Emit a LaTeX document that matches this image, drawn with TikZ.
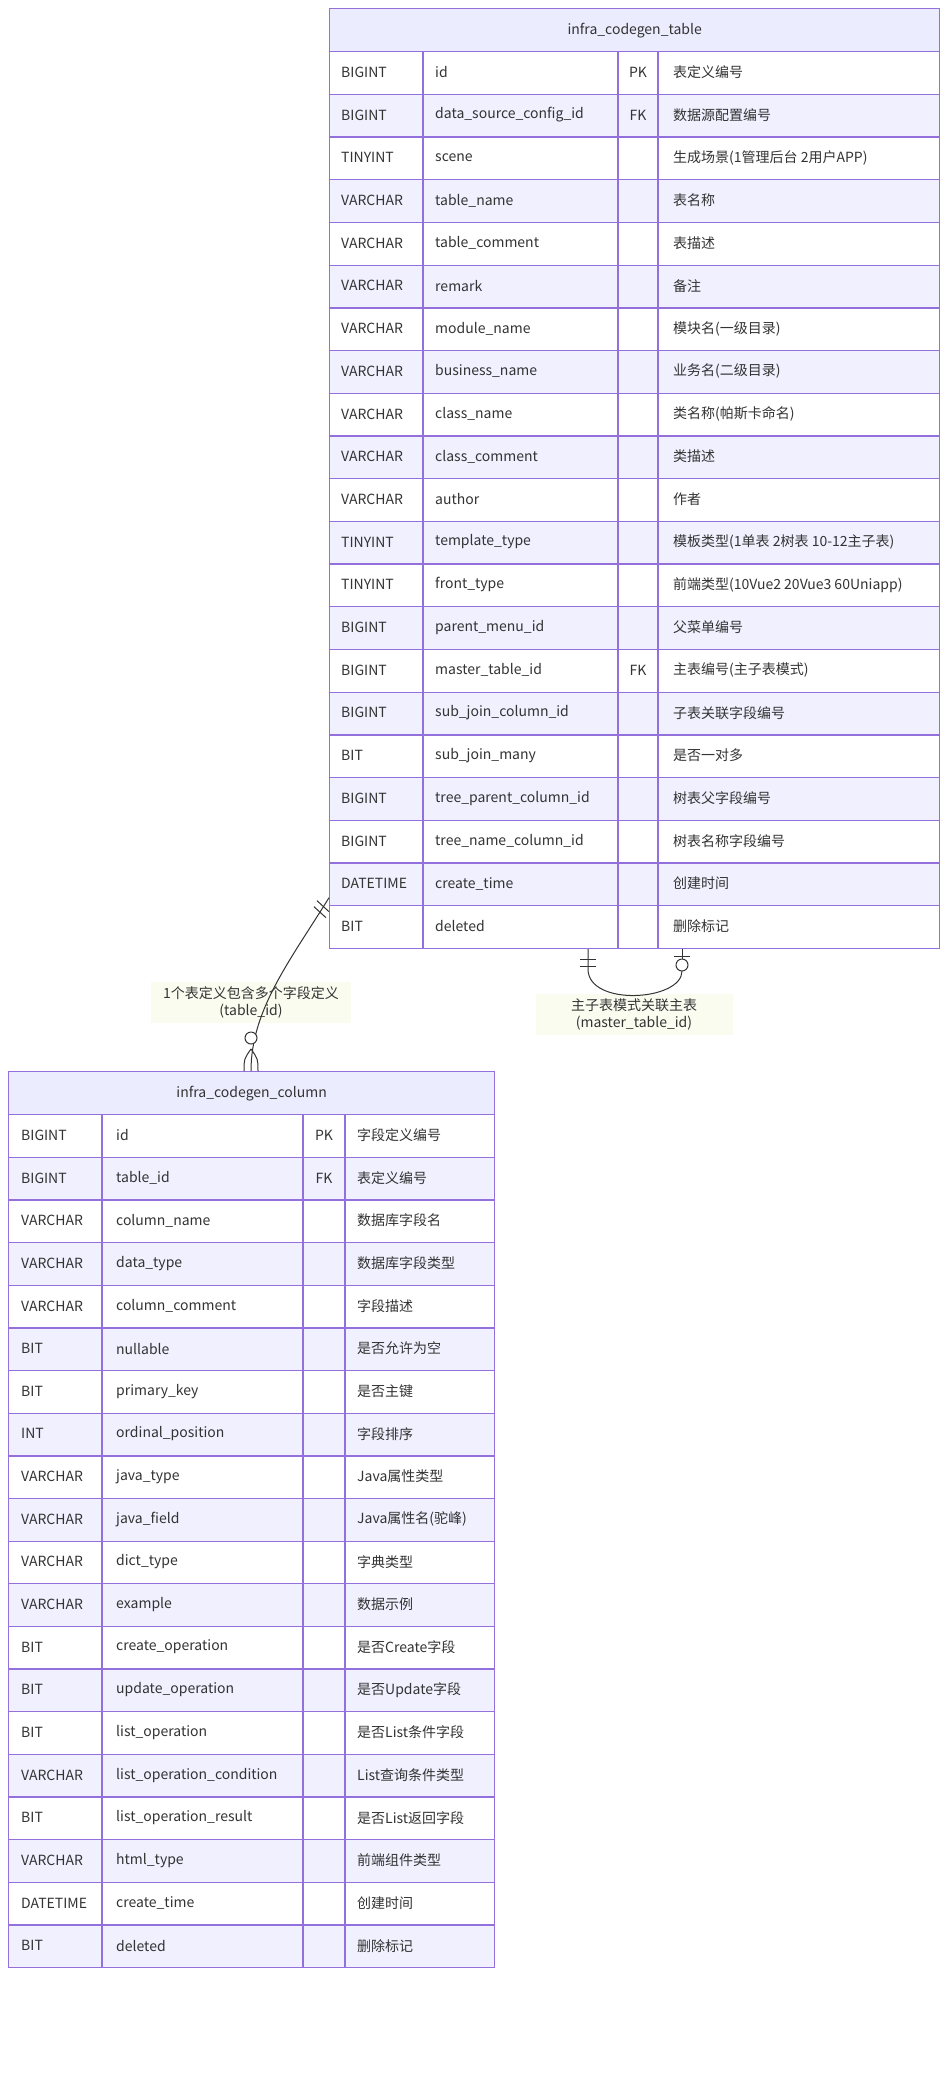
\documentclass[tikz,border=0pt]{standalone}
\usepackage{fontspec}
\setmainfont{Noto Sans CJK SC}
\usetikzlibrary{positioning, calc}
\definecolor{erborder}{RGB}{147, 112, 219}
\definecolor{erhead}{RGB}{236, 236, 255}
\definecolor{errow}{RGB}{240, 240, 255}
\definecolor{ertext}{RGB}{51, 51, 51}
\definecolor{lblbg}{RGB}{250, 252, 240}
\newcommand{\erfont}{\fontsize{14}{17}\selectfont}
\tikzset{
  hdr/.style={draw=erborder, fill=erhead, line width=1.3pt, minimum width=#1, minimum height=43, anchor=north west, inner sep=0, font=\erfont, text=ertext},
  rowbox/.style={draw=erborder, line width=1.3pt, minimum width=#1, minimum height=42.7, anchor=north west, inner sep=0},
  txt/.style={anchor=west, inner sep=0, font=\erfont, text=ertext},
  keytxt/.style={inner sep=0, font=\erfont, text=ertext},
  sep/.style={draw=erborder, line width=1.3pt},
  rel/.style={draw=ertext, line width=1pt},
  lbl/.style={fill=lblbg, align=center, font=\erfont, text=ertext, inner sep=0, minimum width=#1, minimum height=41}
}

\begin{document}
\begin{tikzpicture}[x=1pt, y=-1pt]
\useasboundingbox (0,0) rectangle (948,2099);

% infra_codegen_table
\node[hdr=610] (tabhead) at (329,8) {infra\_codegen\_table};
\foreach \ty/\nm/\ky/\cm [count=\i] in {
  BIGINT/id/PK/表定义编号,
  BIGINT/data\_source\_config\_id/FK/数据源配置编号,
  TINYINT/scene//生成场景(1管理后台 2用户APP),
  VARCHAR/table\_name//表名称,
  VARCHAR/table\_comment//表描述,
  VARCHAR/remark//备注,
  VARCHAR/module\_name//模块名(一级目录),
  VARCHAR/business\_name//业务名(二级目录),
  VARCHAR/class\_name//类名称(帕斯卡命名),
  VARCHAR/class\_comment//类描述,
  VARCHAR/author//作者,
  TINYINT/template\_type//模板类型(1单表 2树表 10-12主子表),
  TINYINT/front\_type//前端类型(10Vue2 20Vue3 60Uniapp),
  BIGINT/parent\_menu\_id//父菜单编号,
  BIGINT/master\_table\_id/FK/主表编号(主子表模式),
  BIGINT/sub\_join\_column\_id//子表关联字段编号,
  BIT/sub\_join\_many//是否一对多,
  BIGINT/tree\_parent\_column\_id//树表父字段编号,
  BIGINT/tree\_name\_column\_id//树表名称字段编号,
  DATETIME/create\_time//创建时间,
  BIT/deleted//删除标记} {
  \pgfmathsetmacro\yy{51+(\i-1)*42.7}
  \ifodd\i \def\rf{white}\else \def\rf{errow}\fi
  \node[rowbox=610, fill=\rf] (tab\i) at (329,\yy) {};
  \node[txt] at (341,\yy+21.35) {\ty};
  \node[txt] at (435,\yy+21.35) {\nm};
  \node[keytxt] at (638,\yy+21.35) {\ky};
  \node[txt] at (673,\yy+21.35) {\cm};
}
\draw[sep] (423,51) -- (423,948);
\draw[sep] (618,51) -- (618,948);
\draw[sep] (658,51) -- (658,948);

% infra_codegen_column
\node[hdr=486] (colhead) at (8,1071) {infra\_codegen\_column};
\foreach \ty/\nm/\ky/\cm [count=\i] in {
  BIGINT/id/PK/字段定义编号,
  BIGINT/table\_id/FK/表定义编号,
  VARCHAR/column\_name//数据库字段名,
  VARCHAR/data\_type//数据库字段类型,
  VARCHAR/column\_comment//字段描述,
  BIT/nullable//是否允许为空,
  BIT/primary\_key//是否主键,
  INT/ordinal\_position//字段排序,
  VARCHAR/java\_type//Java属性类型,
  VARCHAR/java\_field//Java属性名(驼峰),
  VARCHAR/dict\_type//字典类型,
  VARCHAR/example//数据示例,
  BIT/create\_operation//是否Create字段,
  BIT/update\_operation//是否Update字段,
  BIT/list\_operation//是否List条件字段,
  VARCHAR/list\_operation\_condition//List查询条件类型,
  BIT/list\_operation\_result//是否List返回字段,
  VARCHAR/html\_type//前端组件类型,
  DATETIME/create\_time//创建时间,
  BIT/deleted//删除标记} {
  \pgfmathsetmacro\yy{1114+(\i-1)*42.65}
  \ifodd\i \def\rf{white}\else \def\rf{errow}\fi
  \node[rowbox=486, fill=\rf] (col\i) at (8,\yy) {};
  \node[txt] at (21,\yy+21.3) {\ty};
  \node[txt] at (116,\yy+21.3) {\nm};
  \node[keytxt] at (324,\yy+21.3) {\ky};
  \node[txt] at (357,\yy+21.3) {\cm};
}
\draw[sep] (102,1114) -- (102,1967);
\draw[sep] (303,1114) -- (303,1967);
\draw[sep] (345,1114) -- (345,1967);

% relation labels
\node[lbl=200] (lblcol) at (251,1002) {1个表定义包含多个字段定义\\(table\_id)};
\node[lbl=197] (lblmaster) at (634,1014) {主子表模式关联主表\\(master\_table\_id)};

% table -> column (one to zero-or-many)
\coordinate (fkTop) at ($(tab20.west)+(0,13.4)$);
\coordinate (fkBot) at ($(colhead.north west)+(243,0)$);
\draw[rel] (fkTop) .. controls ($(fkTop)+(-39,63)$) and ($(fkBot)+(0,-61)$) .. (fkBot);
\draw[rel] ($(fkTop)+(-12,3)$) -- ($(fkTop)+(0,14)$);
\draw[rel] ($(fkTop)+(-15,9)$) -- ($(fkTop)+(-3,20)$);
\draw[rel, fill=white] ($(fkBot)+(0,-33)$) circle (6);
\draw[rel] ($(fkBot)+(0,-22)$) .. controls ($(fkBot)+(-7,-12)$) .. ($(fkBot)+(-7,0)$);
\draw[rel] ($(fkBot)+(0,-22)$) .. controls ($(fkBot)+(7,-12)$) .. ($(fkBot)+(7,0)$);

% master table self relation (one to zero-or-one)
\coordinate (mtLeft) at ($(tab21.south west)+(259,0)$);
\coordinate (mtRight) at ($(tab21.south west)+(353,0)$);
\draw[rel] (mtLeft) -- ++(0,20) .. controls ++(0,38) and ($(mtRight)+(0,52)$) .. ($(mtRight)+(0,22)$);
\draw[rel] (mtRight) -- ++(0,10);
\draw[rel] ($(mtLeft)+(-8,10)$) -- ($(mtLeft)+(8,10)$);
\draw[rel] ($(mtLeft)+(-8,17)$) -- ($(mtLeft)+(8,17)$);
\draw[rel] ($(mtRight)+(-8,7)$) -- ($(mtRight)+(8,7)$);
\draw[rel, fill=white] ($(mtRight)+(0,16)$) circle (6);
\end{tikzpicture}
\end{document}
